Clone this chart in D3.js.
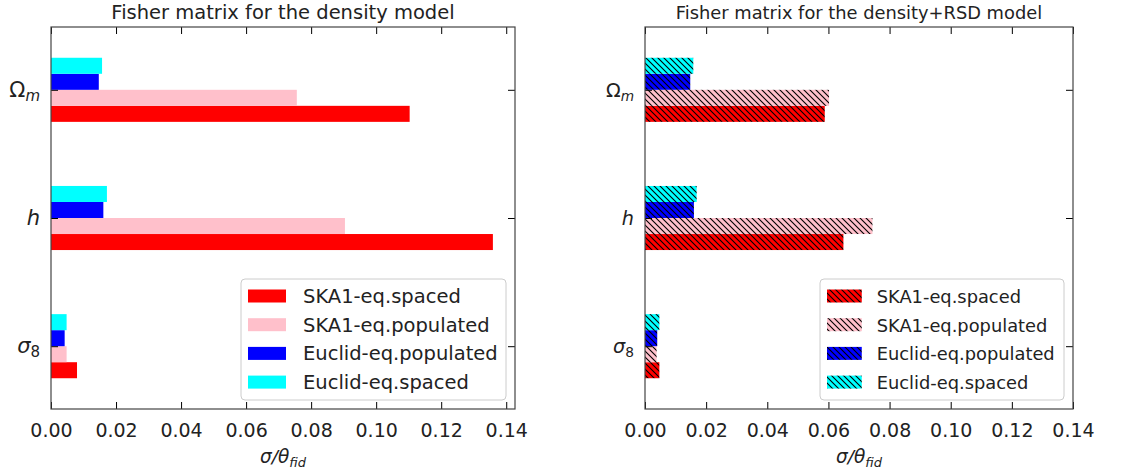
<!DOCTYPE html>
<html>
<head>
<meta charset="utf-8">
<script src="https://cdn.jsdelivr.net/npm/d3@7"></script>
<style>
  body { margin: 0; background: #fff; }
  svg { font-family: "DejaVu Sans", sans-serif; }
</style>
</head>
<body>
<script>
// parameters, bottom to top (index = y position)
const params = ["sigma8", "h", "Omega_m"];
const series = ["SKA1-eq.spaced", "SKA1-eq.populated", "Euclid-eq.populated", "Euclid-eq.spaced"];
const colors = ["#ff0000", "#ffc0cb", "#0000ff", "#00ffff"];
const xTicks = [0, 0.02, 0.04, 0.06, 0.08, 0.10, 0.12, 0.14];

// values per series, in order sigma8, h, Omega_m
const densityVals = [
    [0.0080, 0.1359, 0.1103],
    [0.0048, 0.0904, 0.0756],
    [0.0042, 0.0161, 0.0147],
    [0.0048, 0.0172, 0.0157]
];
const rsdVals = [
    [0.0047, 0.0649, 0.0588],
    [0.0038, 0.0744, 0.0602],
    [0.0040, 0.0160, 0.0148],
    [0.0047, 0.0169, 0.0158]
];

const W = 1146, H = 472;
const svg = d3.select("body").append("svg").attr("width", W).attr("height", H);

// hatch patterns, one per colour
const defs = svg.append("defs");
colors.forEach((c, i) => {
    let p = defs.append("pattern")
        .attr("id", "hatch" + i)
        .attr("patternUnits", "userSpaceOnUse")
        .attr("width", 6).attr("height", 6);
    p.append("rect").attr("width", 6).attr("height", 6).attr("fill", c);
    p.append("path")
        .attr("d", "M0,0L6,6M-1,5L1,7M5,-1L7,1")
        .attr("stroke", "#000").attr("stroke-width", 1.1);
});

const barH = 0.125;

function panel(opt) {
    let g = svg.append("g");
    let f = opt.fs; // font scale for title, legend, y labels
    let x = d3.scaleLinear().domain([0, opt.xmax]).range([opt.left, opt.right]);
    let y = d3.scaleLinear().domain([-0.49, 2.49]).range([409, 27]);
    let top = y.range()[1], bottom = y.range()[0];

    // bars
    opt.vals.forEach((row, s) => {
        g.selectAll(".b" + s)
            .data(row)
            .join("rect")
            .attr("x", x(0))
            .attr("y", (d, i) => y(i - 0.25 + (s + 1) * barH))
            .attr("width", d => x(d) - x(0))
            .attr("height", y(0) - y(barH))
            .attr("fill", opt.hatch ? "url(#hatch" + s + ")" : colors[s]);
    });

    // axes, ticks inward on all sides
    let ax = g.append("g").attr("transform", "translate(0," + bottom + ")")
        .call(d3.axisBottom(x).tickValues(xTicks).tickFormat(d3.format(".2f")).tickSizeInner(-7).tickSizeOuter(0).tickPadding(15));
    g.append("g").attr("transform", "translate(0," + top + ")")
        .call(d3.axisTop(x).tickValues(xTicks).tickFormat("").tickSizeInner(-7).tickSizeOuter(0));
    g.append("g").attr("transform", "translate(" + x.range()[0] + ",0)")
        .call(d3.axisLeft(y).tickValues([0, 1, 2]).tickFormat("").tickSizeInner(-7).tickSizeOuter(0));
    g.append("g").attr("transform", "translate(" + x.range()[1] + ",0)")
        .call(d3.axisRight(y).tickValues([0, 1, 2]).tickFormat("").tickSizeInner(-7).tickSizeOuter(0));
    g.selectAll(".domain").remove();
    g.selectAll(".tick line").attr("stroke", "#000").attr("stroke-width", 1);
    ax.selectAll("text").attr("font-size", 19).attr("fill", "#222").attr("font-family", "DejaVu Sans");

    g.append("rect")
        .attr("x", x.range()[0]).attr("y", top)
        .attr("width", x.range()[1] - x.range()[0]).attr("height", bottom - top)
        .attr("fill", "none").attr("stroke", "#444").attr("stroke-width", 1.2);

    // y tick labels
    let lx = x.range()[0] - 11;
    let t0 = g.append("text").attr("x", lx).attr("y", y(0) + 7).attr("text-anchor", "end").attr("font-size", 21 * f).attr("fill", "#222");
    t0.append("tspan").attr("font-style", "italic").text("σ");
    t0.append("tspan").attr("dy", 4).attr("font-size", 15 * f).text("8");
    g.append("text").attr("x", lx).attr("y", y(1) + 7).attr("text-anchor", "end").attr("font-size", 21 * f).attr("fill", "#222")
        .attr("font-style", "italic").text("h");
    let t2 = g.append("text").attr("x", lx).attr("y", y(2) + 7).attr("text-anchor", "end").attr("font-size", 21 * f).attr("fill", "#222");
    t2.append("tspan").text("Ω");
    t2.append("tspan").attr("dy", 4).attr("font-size", 15 * f).attr("font-style", "italic").text("m");

    // title
    let cx = (x.range()[0] + x.range()[1]) / 2;
    g.append("text").attr("x", cx).attr("y", 19).attr("text-anchor", "middle")
        .attr("font-size", 19.5 * f).attr("fill", "#222").text(opt.title);

    // x label
    let xl = g.append("text").attr("x", cx).attr("y", 463).attr("text-anchor", "middle")
        .attr("font-size", 18.5).attr("fill", "#222").attr("font-style", "italic");
    xl.append("tspan").text("σ/θ");
    xl.append("tspan").attr("dy", 4).attr("font-size", 13).text("fid");

    // legend
    let lg = g.append("g");
    lg.append("rect").attr("x", opt.legX).attr("y", 279).attr("width", x.range()[1] - 9 - opt.legX).attr("height", 121)
        .attr("rx", 4).attr("fill", "#fff").attr("fill-opacity", 0.8).attr("stroke", "#ccc");
    series.forEach((s, i) => {
        let cy = 296 + i * 28.7;
        lg.append("rect").attr("x", opt.legX + 7).attr("y", cy - 6.5).attr("width", 38 * f).attr("height", 13)
            .attr("fill", opt.hatch ? "url(#hatch" + i + ")" : colors[i]);
        lg.append("text").attr("x", opt.legX + 62 * f).attr("y", cy + 7).attr("font-size", 19.5 * f).attr("fill", "#222").text(s);
    });
}

panel({ left: 51, right: 515, xmax: 0.1427, vals: densityVals, hatch: false, fs: 1,
        title: "Fisher matrix for the density model", legX: 241 });
panel({ left: 645, right: 1073, xmax: 0.14, vals: rsdVals, hatch: true, fs: 0.915,
        title: "Fisher matrix for the density+RSD model", legX: 820 });
</script>
</body>
</html>
